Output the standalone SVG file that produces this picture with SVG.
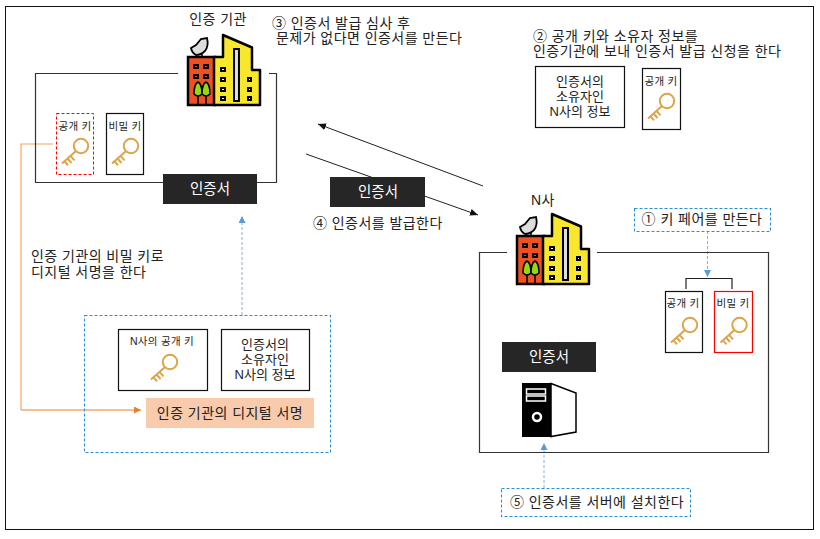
<svg xmlns="http://www.w3.org/2000/svg" width="820" height="539" viewBox="0 0 820 539">
<style>
text{font-family:"Liberation Sans","Noto Sans CJK KR",sans-serif;fill:#222;text-anchor:middle}
.t13{font-size:14px;letter-spacing:.45px}.t12{font-size:13px}.t9{font-size:10.500px;letter-spacing:.3px}
.s{text-anchor:start}
.box{fill:#fff;stroke:#111;stroke-width:1.200}
.cert{fill:#262626}
text.certt{fill:#fff;font-size:14.500px}
.frame{fill:none;stroke:#333;stroke-width:1.200}
.dash{fill:#fff;stroke:#2E8FD0;stroke-width:1.100;stroke-dasharray:3 2}
.blue{fill:none;stroke:#7FB2DC;stroke-width:1;stroke-dasharray:3 2}
.arr{fill:none;stroke:#222;stroke-width:1}
.k{fill:none;stroke:#DCA44B;stroke-width:2}
.w{stroke:#000;stroke-width:2}
</style>
<defs>
<marker id="ab" markerUnits="userSpaceOnUse" markerWidth="8" markerHeight="8" refX="7" refY="3.500" orient="auto"><path d="M0 0L7 3.500L0 7z" fill="#5B9BD5"/></marker>
<marker id="ak" markerUnits="userSpaceOnUse" markerWidth="10" markerHeight="8" refX="8" refY="3.500" orient="auto"><path d="M0 0L8 3.500L0 7z" fill="#111"/></marker>
<marker id="ao" markerUnits="userSpaceOnUse" markerWidth="8" markerHeight="8" refX="7" refY="3.500" orient="auto"><path d="M0 0L7 3.500L0 7z" fill="#ED7D31"/></marker>
<g id="key"><circle r="7.200" class="k"/><path class="k" d="M-5 5L-19 17.500M-13.500 12.500l4 4.500M-10.500 9.800l4 4.500M-16.500 15.300l3.500 4"/></g>
<g id="bld">
<path d="M1 23h27v48H1z" fill="#EE4F23" stroke="#000" stroke-width="2.500"/>
<path d="M27 71V23h9V1l29 12.500V36h8v35z" fill="#F9E72E" stroke="#000" stroke-width="2.500" stroke-linejoin="round"/>
<path d="M11 62v9M19 62v9" stroke="#000" stroke-width="1.500"/>
<path d="M7 60q0-10 4-12q4 2 4 12q-4 4-8 0z" fill="#96D80F" stroke="#000" stroke-width="1.500"/>
<path d="M15 60q0-10 4-12q4 2 4 12q-4 4-8 0z" fill="#96D80F" stroke="#000" stroke-width="1.500"/>
<path d="M47 15h5v52h-5z" fill="#ddd" stroke="#000" stroke-width="2"/>
<path class="w" fill="#EE4F23" d="M7 31h4v3H7zM17 31h4v3h-4zM7 41h4v3H7zM17 41h4v3h-4z"/>
<path class="w" fill="#fff" d="M34 34h4v3h-4zM34 44h4v3h-4zM34 54h4v3h-4zM34 63h4v3h-4zM61 44h3v3h-3zM61 54h3v3h-3zM61 63h3v3h-3z"/>
<path d="M15 23V15" stroke="#000" stroke-width="1.500"/>
<path d="M4 14l5-3l5-6l6-1q2 8-2 13q-4 4-9 4q-4-2-5-7z" fill="#ddd" stroke="#000" stroke-width="1.800"/>
</g>
</defs>
<rect width="820" height="539" fill="#fff"/>
<rect x="5.500" y="6.500" width="808" height="523" fill="none" stroke="#111" stroke-width="1"/>

<g id="connectors">
<path class="arr" d="M483 186L318 124" marker-end="url(#ak)"/>
<path class="arr" d="M306 154L478 215" marker-end="url(#ak)"/>
<path class="blue" d="M242 315V216" marker-end="url(#ab)"/>
<path class="blue" d="M707.500 231V277" marker-end="url(#ab)"/>
<path class="blue" d="M544 488V443" marker-end="url(#ab)"/>
<path fill="none" stroke="#F4A460" stroke-width="1.200" d="M53 144H21V410"/>
<path fill="none" stroke="#ED7D31" stroke-width="1.200" d="M21 410H141" marker-end="url(#ao)"/>
<path fill="none" stroke="#222" stroke-width="1.200" d="M686 289V278.500H732V289"/>
</g>

<g id="ca-frame"><path class="frame" d="M178 73.500H35.500V182.500H163M257 182.500H276.500V73.500H269"/></g>
<g id="n-frame"><path class="frame" d="M507 252.500H479.500V452.500H768.500V252.500H597"/></g>

<g id="ca"><use href="#bld" x="187" y="34"/><text x="218" y="24" class="t13">인증 기관</text></g>
<g id="ca-public"><rect x="56.500" y="113.500" width="37" height="61" fill="#fff" stroke="#f00" stroke-dasharray="3 2"/><text x="75" y="130" class="t9">공개 키</text><use href="#key" x="81" y="146"/></g>
<g id="ca-secret"><rect x="106.500" y="113.500" width="37" height="61" class="box"/><text x="125" y="130" class="t9">비밀 키</text><use href="#key" x="131" y="146"/></g>
<g id="ca-cert"><rect x="163" y="174" width="94" height="30" class="cert"/><text x="210" y="194" class="certt">인증서</text></g>

<g id="step3"><text class="t13 s" x="272" y="28">③ 인증서 발급 심사 후<tspan x="276" dy="15">문제가 없다면 인증서를 만든다</tspan></text></g>
<g id="step2"><text class="t13 s" x="533" y="41">② 공개 키와 소유자 정보를<tspan x="533" dy="15">인증기관에 보내 인증서 발급 신청을 한다</tspan></text></g>
<g id="top-info"><rect x="535.500" y="66.500" width="89" height="61" class="box"/><text x="580" y="86" class="t12">인증서의<tspan x="580" dy="15">소유자인</tspan><tspan x="580" dy="15">N사의 정보</tspan></text></g>
<g id="top-public"><rect x="642.500" y="68.500" width="38" height="61" class="box"/><text x="661" y="85" class="t9">공개 키</text><use href="#key" x="667" y="101"/></g>

<g id="issued-cert"><rect x="330" y="177" width="95" height="30" class="cert"/><text x="378" y="197" class="certt">인증서</text></g>
<text id="step4" class="t13 s" x="313" y="228">④ 인증서를 발급한다</text>

<g id="sign-note"><text class="t13 s" x="31" y="261">인증 기관의 비밀 키로<tspan x="31" dy="16">디지털 서명을 한다</tspan></text></g>

<g id="nco"><use href="#bld" x="516" y="213"/><text x="543" y="205" class="t13">N사</text></g>
<g id="step1"><rect x="634.500" y="208.500" width="136" height="23" class="dash"/><text x="702" y="224" class="t13">① 키 페어를 만든다</text></g>
<g id="n-public"><rect x="665.500" y="291.500" width="37" height="61" class="box"/><text x="683" y="307" class="t9">공개 키</text><use href="#key" x="690" y="325"/></g>
<g id="n-secret"><rect x="714.500" y="291.500" width="38" height="61" fill="#fff" stroke="#f00" stroke-width="1.200"/><text x="733" y="307" class="t9">비밀 키</text><use href="#key" x="739.500" y="325"/></g>
<g id="n-cert"><rect x="502" y="342" width="94" height="30" class="cert"/><text x="549" y="362" class="certt">인증서</text></g>
<g id="server"><path d="M551 383.500L576 393V432L551 436.500z" fill="#fff" stroke="#000" stroke-width="1.500"/><rect x="522" y="383" width="29" height="54"/><rect x="526.500" y="389" width="19" height="5" fill="none" stroke="#fff" stroke-width="1.500"/><rect x="526.500" y="396" width="19" height="5" fill="none" stroke="#fff" stroke-width="1.500"/><circle cx="537" cy="417" r="4" fill="none" stroke="#fff" stroke-width="2.500"/></g>
<g id="step5"><rect x="501.500" y="488.500" width="189" height="28" class="dash"/><text x="597" y="507" class="t13">⑤ 인증서를 서버에 설치한다</text></g>

<g id="signed"><rect x="84.500" y="315.500" width="246" height="137" fill="none" stroke="#2E8FD0" stroke-width="1.100" stroke-dasharray="3 2"/></g>
<g id="signed-key"><rect x="118.500" y="329.500" width="89" height="61" class="box"/><text x="162" y="345" class="t9">N사의 공개 키</text><use href="#key" x="170" y="362"/></g>
<g id="signed-info"><rect x="221.500" y="329.500" width="88" height="61" class="box"/><text x="265" y="349" class="t12">인증서의<tspan x="265" dy="15">소유자인</tspan><tspan x="265" dy="15">N사의 정보</tspan></text></g>
<g id="signature"><rect x="146" y="398" width="168" height="30" fill="#F8CBAD"/><text x="230" y="418" class="t13">인증 기관의 디지털 서명</text></g>
</svg>
